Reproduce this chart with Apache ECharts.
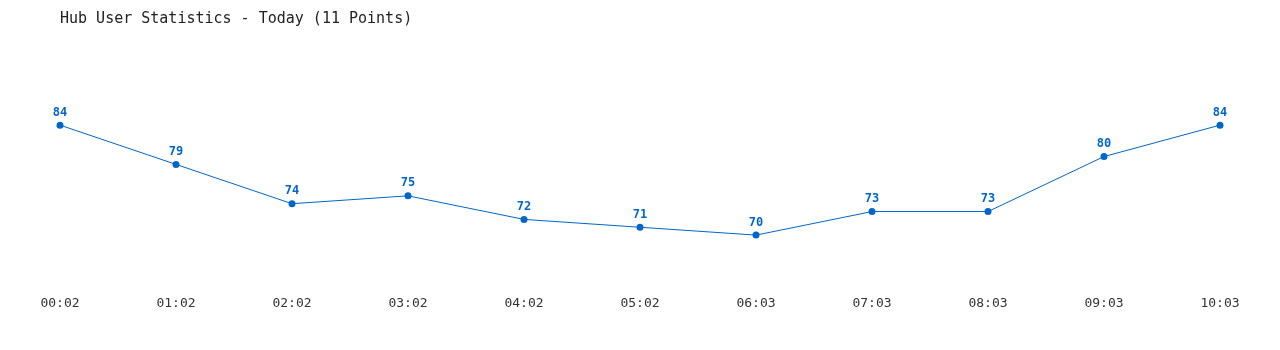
<!DOCTYPE html>
<html>
<head>
<meta charset="utf-8">
<script src="https://cdn.jsdelivr.net/npm/echarts@6/dist/echarts.min.js"></script>
<style>
html,body{margin:0;padding:0;background:#fff;}
#chart{width:1280px;height:350px;}
</style>
</head>
<body>
<div id="chart"></div>
<script>
var titleText = 'Hub User Statistics - Today (11 Points)';
var categories = ['00:02','01:02','02:02','03:02','04:02','05:02','06:03','07:03','08:03','09:03','10:03'];
var users = [84, 79, 74, 75, 72, 71, 70, 73, 73, 80, 84];

var chart = echarts.init(document.getElementById('chart'));
chart.setOption({
  backgroundColor: '#ffffff',
  animation: false,
  title: {
    text: titleText,
    left: 55,
    top: 7,
    textStyle: { fontFamily: 'DejaVu Sans Mono', fontSize: 15, fontWeight: 'normal', color: '#222' }
  },
  grid: { left: 60, right: 60, top: 78, height: 196.4 },
  xAxis: {
    type: 'category',
    data: categories,
    boundaryGap: false,
    axisLine: { show: false },
    axisTick: { show: false },
    splitLine: { show: false },
    axisLabel: { margin: 23, color: '#333', fontFamily: 'DejaVu Sans Mono', fontSize: 13 }
  },
  yAxis: {
    type: 'value',
    min: 65,
    max: 90,
    show: false,
    splitLine: { show: false }
  },
  series: [{
    type: 'line',
    data: users,
    symbol: 'circle',
    symbolSize: 7,
    lineStyle: { color: '#0066cc', width: 1 },
    itemStyle: { color: '#0066cc' },
    label: {
      show: true,
      position: 'top',
      distance: 3,
      color: '#0066cc',
      fontFamily: 'DejaVu Sans Mono',
      fontWeight: 'bold',
      fontSize: 12
    }
  }]
});
</script>
</body>
</html>
